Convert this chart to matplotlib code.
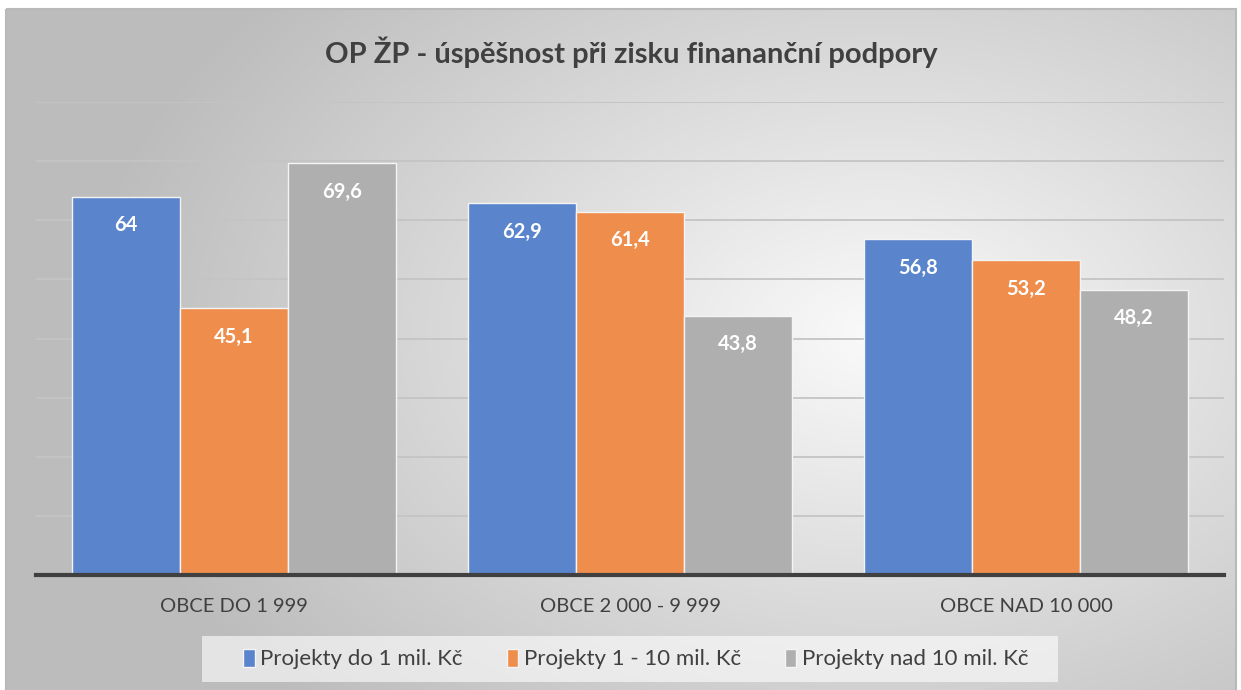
import numpy as np
import matplotlib.pyplot as plt
from matplotlib.patches import Rectangle

# ── Data ──────────────────────────────────────────────────────────────────────
TITLE = "OP ŽP - úspěšnost při zisku finananční podpory"
CATEGORIES = ["OBCE DO 1 999", "OBCE 2 000 - 9 999", "OBCE NAD 10 000"]
SERIES = ["Projekty do 1 mil. Kč", "Projekty 1 - 10 mil. Kč", "Projekty nad 10 mil. Kč"]
VALUES_SMALL = [64, 62.9, 56.8]
VALUES_MID = [45.1, 61.4, 53.2]
VALUES_BIG = [69.6, 43.8, 48.2]

COLORS = ["#5a84cb", "#ee8d4c", "#afafaf"]
FONT = ["Lato", "DejaVu Sans"]
W, H = 1241, 690

plt.rcParams["font.family"] = FONT

fig = plt.figure(figsize=(W / 100, H / 100), dpi=100)
fig.patch.set_facecolor("white")

# ── Background: radial gradient inside a framed panel ────────────────────────
bg = fig.add_axes([0, 0, 1, 1])
bg.set_xlim(0, W)
bg.set_ylim(H, 0)
bg.axis("off")
yy, xx = np.mgrid[0:H, 0:W]
cx, cy = 880, 330
r = np.sqrt(((xx - cx) / 900.0) ** 2 + ((yy - cy) / 600.0) ** 2)
shade = np.clip(0.98 - 0.27 * r, 0.74, 0.98)
img = np.dstack([shade, shade, shade])
bg.imshow(img, extent=(6, 1236, 690, 9), aspect="auto", zorder=0)
bg.add_patch(Rectangle((6, 9), 1230, 690, fill=False, edgecolor="#b9b9b9",
                       linewidth=1.5, zorder=1))
bg.text(631, 52, TITLE, ha="center", va="center", fontsize=21,
        fontweight="bold", color="#404040")

# legend panel
bg.add_patch(Rectangle((202, 636), 856, 46, facecolor="white", alpha=0.6,
                       edgecolor="none", zorder=1))

# ── Bars ──────────────────────────────────────────────────────────────────────
ax = fig.add_axes([36 / W, 1 - 575 / H, (1224 - 36) / W, (575 - 102) / H])
ax.patch.set_alpha(0)
x = np.arange(len(CATEGORIES))
bw = 108 / 396
series_vals = [VALUES_SMALL, VALUES_MID, VALUES_BIG]
for i, (vals, col, name) in enumerate(zip(series_vals, COLORS, SERIES)):
    bars = ax.bar(x + (i - 1) * bw, vals, width=bw, color=col,
                  edgecolor="#f4f4f4", linewidth=1.0, label=name, zorder=3)
    for b, v in zip(bars, vals):
        lbl = f"{v:g}".replace(".", ",")
        ax.text(b.get_x() + b.get_width() / 2, v - 4.8, lbl, ha="center",
                va="center", fontsize=14.5, fontweight="bold", color="white",
                zorder=4)

ax.set_xlim(-0.5, 2.5)
ax.set_ylim(0, 80)
ax.set_yticks(np.arange(0, 81, 10))
ax.yaxis.grid(True, color="#c4c4c4", linewidth=1.3)
ax.set_axisbelow(True)
ax.tick_params(axis="y", left=False, labelleft=False)
ax.tick_params(axis="x", bottom=False, labelsize=14.5, labelcolor="#404040", pad=13)
ax.set_xticks(x)
ax.set_xticklabels(CATEGORIES)
for s in ["top", "right", "left"]:
    ax.spines[s].set_visible(False)
ax.spines["bottom"].set_color("#404040")
ax.spines["bottom"].set_linewidth(3)
ax.spines["bottom"].set_zorder(5)

leg = fig.legend(loc="center", bbox_to_anchor=(636 / W, 1 - 659 / H), ncol=3,
                 frameon=False, fontsize=16, handlelength=0.5, handleheight=0.9,
                 handletextpad=0.25, columnspacing=2.0)
for t in leg.get_texts():
    t.set_color("#404040")

fig.savefig("out.png", dpi=100)
